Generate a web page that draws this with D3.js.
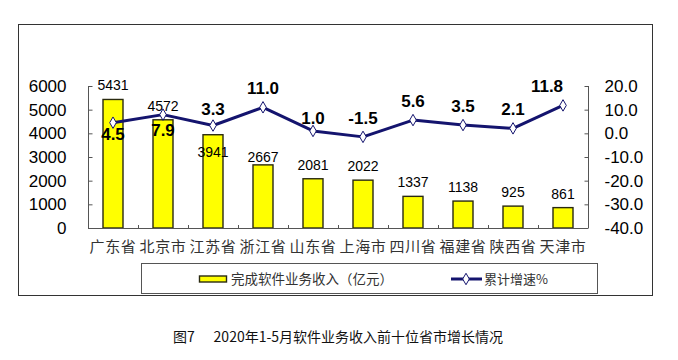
<!DOCTYPE html>
<html><head><meta charset="utf-8">
<script src="https://cdn.jsdelivr.net/npm/d3@7/dist/d3.min.js"></script>
<style>
html,body{margin:0;padding:0;background:#fff;}
svg{display:block;}
</style></head>
<body>
<svg id="c" width="678" height="360"></svg>
<script>
const categories = ["广东省","北京市","江苏省","浙江省","山东省","上海市","四川省","福建省","陕西省","天津市"];
const revenue = [5431, 4572, 3941, 2667, 2081, 2022, 1337, 1138, 925, 861];
const growth = [4.5, 7.9, 3.3, 11.0, 1.0, -1.5, 5.6, 3.5, 2.1, 11.8];
const leftTicks = [0, 1000, 2000, 3000, 4000, 5000, 6000];
const rightTicks = [-40, -30, -20, -10, 0, 10, 20];
const seriesNames = ["完成软件业务收入（亿元）", "累计增速%"];
const caption = "图7      2020年1-5月软件业务收入前十位省市增长情况";

const svg = d3.select("#c");
const latin = "'Liberation Sans', Arial, sans-serif";
const cjk = "'Noto Sans CJK SC', sans-serif";
const navy = "#14146e";
const fmt1 = v => d3.format(".1f")(v).replace("\u2212", "-");

// outer frame
svg.append("rect").attr("x",18.5).attr("y",24.5).attr("width",634).attr("height",271)
  .attr("fill","none").attr("stroke","#333").attr("stroke-width",1);

const plotL = 88, plotR = 588, plotT = 86, plotB = 228;
const x = d3.scaleBand().domain(categories).range([plotL, plotR]).paddingInner(0.6).paddingOuter(0.3);
const yL = d3.scaleLinear().domain([0, 6000]).range([plotB, plotT]);
const yR = d3.scaleLinear().domain([-40, 20]).range([plotB, plotT]);
const band = d3.scaleBand().domain(categories).range([plotL, plotR]);

// bars
svg.append("g").selectAll("rect").data(revenue).join("rect")
  .attr("x", (d,i) => x(categories[i]))
  .attr("y", d => yL(d))
  .attr("width", x.bandwidth())
  .attr("height", d => plotB - yL(d))
  .attr("fill", "#ffff00").attr("stroke", "#2a2a10").attr("stroke-width", 1.4);

// left axis
const gL = svg.append("g").attr("transform", `translate(${plotL+0.5},0)`)
  .call(d3.axisLeft(yL).tickValues(leftTicks).tickSize(-4).tickPadding(22).tickFormat(d3.format("d")));
gL.select(".domain").attr("stroke","#555").attr("d", `M0,${plotT}V${plotB}`);
gL.selectAll(".tick line").attr("stroke","#555");
gL.selectAll("text").attr("font-family", latin).attr("font-size", 17).attr("fill","#000");

// right axis
const gR = svg.append("g").attr("transform", `translate(${plotR+0.5},0)`)
  .call(d3.axisRight(yR).tickValues(rightTicks).tickSize(-4).tickPadding(16).tickFormat(fmt1));
gR.select(".domain").attr("stroke","#555").attr("d", `M0,${plotT}V${plotB}`);
gR.selectAll(".tick line").attr("stroke","#555");
gR.selectAll("text").attr("font-family", latin).attr("font-size", 17).attr("fill","#000");

// bottom axis
const gB = svg.append("g").attr("transform", `translate(0,${plotB+0.5})`)
  .call(d3.axisBottom(band).tickSize(0).tickPadding(13));
gB.select(".domain").attr("stroke","#555").attr("d", `M${plotL},0H${plotR}`);
gB.selectAll("text").attr("font-family", cjk).attr("font-size", 15).attr("fill","#333")
  .attr("letter-spacing", 0.6);
// category boundary ticks
svg.append("g").selectAll("line").data(categories.slice(1)).join("line")
  .attr("x1", d => Math.round(band(d))+0.5).attr("x2", d => Math.round(band(d))+0.5)
  .attr("y1", plotB - 3).attr("y2", plotB).attr("stroke","#555");

// bar labels (layout nudges for labels that collide with the line)
const barLabelShift = {2: 31, 3: 6};
svg.append("g").selectAll("text").data(revenue).join("text")
  .attr("x", (d,i) => x(categories[i]) + x.bandwidth()/2)
  .attr("y", (d,i) => yL(d) - 14 + (barLabelShift[i] || 0))
  .attr("dy", "0.35em")
  .attr("text-anchor","middle").attr("font-family", latin).attr("font-size", 14).attr("fill","#000")
  .text(d => d);

// line
const cx = i => band(categories[i]) + band.bandwidth()/2;
const line = d3.line().x((d,i) => cx(i)).y(d => yR(d));
svg.append("path").datum(growth).attr("d", line)
  .attr("fill","none").attr("stroke", navy).attr("stroke-width", 3).attr("stroke-linejoin","round");
const diamond = d3.symbol().type(d3.symbolDiamond).size(38);
svg.append("g").selectAll("path").data(growth).join("path")
  .attr("transform", (d,i) => `translate(${cx(i)},${yR(d)})`)
  .attr("d", diamond).attr("fill","#fff").attr("stroke", navy).attr("stroke-width", 1);

// line labels
const lineLabelDy = {0: 11, 1: 15, 2: -16, 4: -13};
svg.append("g").selectAll("text").data(growth).join("text")
  .attr("x", (d,i) => cx(i) + (i === 9 ? -16 : 0))
  .attr("y", (d,i) => yR(d) + (lineLabelDy[i] !== undefined ? lineLabelDy[i] : -19))
  .attr("dy", "0.35em")
  .attr("text-anchor","middle").attr("font-family", latin).attr("font-size", 17)
  .attr("font-weight","bold").attr("fill","#000")
  .text(d => fmt1(d));

// legend
const lg = svg.append("g");
lg.append("rect").attr("x",141.5).attr("y",263.5).attr("width",456).attr("height",30)
  .attr("fill","#fff").attr("stroke","#555");
lg.append("rect").attr("x",199.5).attr("y",276).attr("width",27).attr("height",6)
  .attr("fill","#ffff00").attr("stroke","#2a2a10").attr("stroke-width",1.4);
lg.append("text").attr("x",231).attr("y",279).attr("dy","0.35em")
  .attr("font-family", cjk).attr("font-size",13.5).attr("fill","#333").text(seriesNames[0]);
lg.append("line").attr("x1",451).attr("x2",482).attr("y1",279).attr("y2",279)
  .attr("stroke",navy).attr("stroke-width",3);
lg.append("path").attr("transform","translate(466,279)").attr("d", diamond)
  .attr("fill","#fff").attr("stroke",navy).attr("stroke-width",1);
lg.append("text").attr("x",484).attr("y",279).attr("dy","0.35em")
  .attr("font-family", cjk).attr("font-size",13).attr("fill","#333").text(seriesNames[1]);

// caption
svg.append("text").attr("x",173).attr("y",337).attr("dy","0.35em")
  .attr("font-family", cjk).attr("font-size",14).attr("fill","#111")
  .attr("xml:space","preserve").style("white-space","pre").text(caption);
</script>
</body></html>
